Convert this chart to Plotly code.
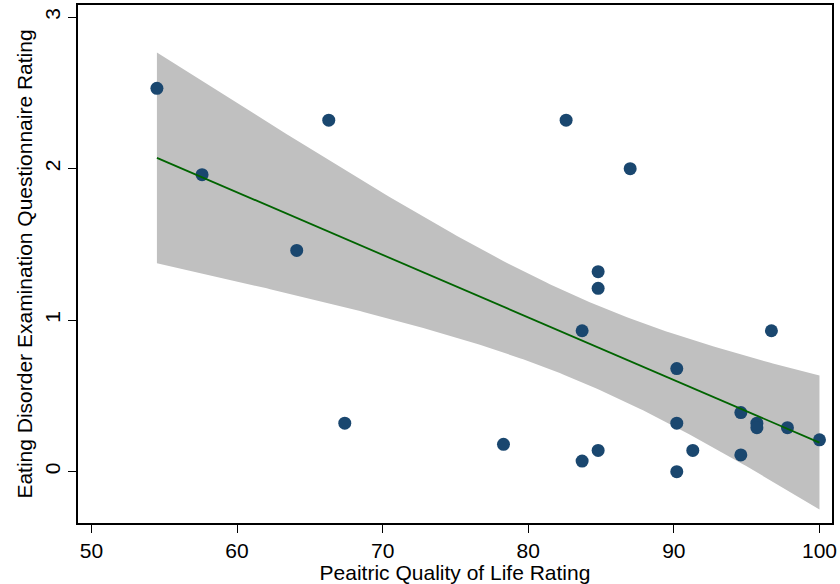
import numpy as np
import plotly.graph_objects as go

# Data
pedsql = [54.5, 57.6, 64.1, 66.3, 67.4, 78.3, 82.6, 87.0, 84.8, 84.8, 83.7, 96.7,
          90.2, 90.2, 94.6, 95.7, 95.7, 97.8, 100.0, 84.8, 83.7, 91.3, 94.6, 90.2]
edeq = [2.53, 1.96, 1.46, 2.32, 0.32, 0.18, 2.32, 2.00, 1.32, 1.21, 0.93, 0.93,
        0.68, 0.32, 0.39, 0.32, 0.29, 0.29, 0.21, 0.14, 0.07, 0.14, 0.11, 0.00]

x_ticks = [50, 60, 70, 80, 90, 100]
y_ticks = [0, 1, 2, 3]

x = np.array(pedsql)
y = np.array(edeq)
n = len(x)
b1, b0 = np.polyfit(x, y, 1)
resid = y - (b0 + b1 * x)
s = np.sqrt(np.sum(resid ** 2) / (n - 2))
sxx = np.sum((x - x.mean()) ** 2)
t_crit = 2.074  # 95%, df = 22
xg = np.linspace(x.min(), x.max(), 200)
yg = b0 + b1 * xg
se = s * np.sqrt(1.0 / n + (xg - x.mean()) ** 2 / sxx)
lo = yg - t_crit * se
hi = yg + t_crit * se

fig = go.Figure()
fig.add_trace(go.Scatter(
    x=np.concatenate([xg, xg[::-1]]), y=np.concatenate([hi, lo[::-1]]),
    fill="toself", fillcolor="#c0c0c0", line=dict(width=0), mode="lines",
    hoverinfo="skip", showlegend=False))
fig.add_trace(go.Scatter(
    x=pedsql, y=edeq, mode="markers",
    marker=dict(color="#1a476f", size=13, line=dict(width=0)), showlegend=False))
fig.add_trace(go.Scatter(
    x=xg, y=yg, mode="lines", line=dict(color="#006400", width=1.8), showlegend=False))

FONT = "Liberation Sans, Arial, sans-serif"
axis_common = dict(
    showline=True, linecolor="black", linewidth=1.5, mirror=True,
    ticks="outside", ticklen=8, tickwidth=1.2, tickcolor="black",
    showgrid=False, zeroline=False,
    tickfont=dict(family=FONT, size=21, color="black"),
)

fig.update_layout(
    width=840, height=584,
    margin=dict(l=78, r=6, t=3, b=61),
    paper_bgcolor="white", plot_bgcolor="white",
    font=dict(family=FONT, size=21, color="black"),
    xaxis=dict(range=[49.08, 100.86], tickvals=x_ticks,
               title=dict(text="Peaitric Quality of Life Rating", standoff=2,
                          font=dict(size=21)),
               **axis_common),
    yaxis=dict(range=[-0.339, 3.08], tickvals=y_ticks, tickangle=-90,
               title=dict(text="Eating Disorder Examination Questionnaire Rating",
                          standoff=2, font=dict(size=21)),
               **axis_common),
)

fig.write_html("out.html")
